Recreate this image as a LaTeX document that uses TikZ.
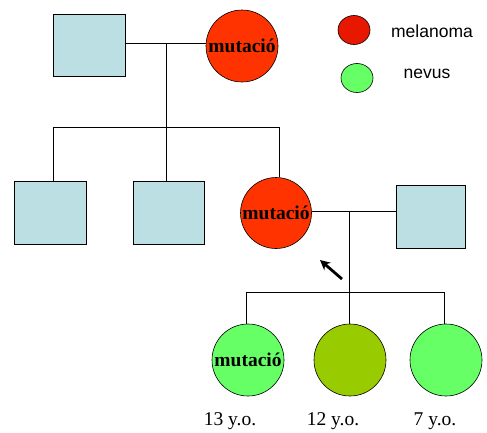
\documentclass[tikz,border=0pt]{standalone}
\usepackage{fontspec}
\setmainfont{Liberation Serif}
\newfontfamily\arialf{Liberation Sans}
\usetikzlibrary{shapes.geometric,arrows.meta}
\definecolor{sqblue}{HTML}{BBDFE3}
\definecolor{mred}{HTML}{FF3300}
\definecolor{lred}{HTML}{E81800}
\definecolor{ngreen}{HTML}{66FF66}
\definecolor{olive}{HTML}{99CC00}
\tikzset{
  male/.style={draw=black, line width=0.9pt, fill=sqblue, rectangle, inner sep=0pt},
  female/.style={draw=black, line width=0.6pt, circle, inner sep=0pt, minimum size=72pt},
  lgd/.style={draw=black, line width=0.6pt, ellipse, inner sep=0pt, minimum width=32pt, minimum height=29pt},
  lgdtxt/.style={font=\arialf\fontsize{17.5}{20}\selectfont, inner sep=0pt},
  agetxt/.style={font=\fontsize{19.5}{22}\selectfont, inner sep=0pt},
  link/.style={draw=black, line width=0.8pt},
  mut/.style={font=\bfseries\fontsize{19.5}{22}\selectfont}
}
\newcommand{\mutlbl}{\makebox[0pt]{\textbf{mutació}}}
\begin{document}
\begin{tikzpicture}[x=1pt, y=-1pt]
\useasboundingbox (0,0) rectangle (487,432);
% generation 1
\node[male, minimum width=72pt, minimum height=62pt] (g1m) at (89,45) {};
\node[female, fill=mred, mut] (g1f) at (242,46) {\mutlbl};
% legend
\node[lgd, fill=lred] (lr) at (354,30) {};
\node[lgdtxt] (lrt) at (432,31) {melanoma};
\node[lgd, fill=ngreen] (lg) at (357,78) {};
\node[lgdtxt] (lgt) at (427,74) {nevus};
% generation 2
\node[male, minimum width=72pt, minimum height=63pt] (c1) at (50,212.5) {};
\node[male, minimum width=71pt, minimum height=63pt] (c2) at (168.5,212.5) {};
\node[female, fill=mred, mut, minimum size=71pt] (c3) at (276,213) {\mutlbl};
\node[male, minimum width=69pt, minimum height=63pt] (sp) at (430.5,216.5) {};
% generation 3
\node[female, fill=ngreen, mut] (k1) at (248,360) {\mutlbl};
\node[female, fill=olive] (k2) at (350,360) {};
\node[female, fill=ngreen] (k3) at (446,360) {};
\node[agetxt] (a1) at (230,421) {13 y.o.};
\node[agetxt] (a2) at (333,421) {12 y.o.};
\node[agetxt] (a3) at (435,421) {7 y.o.};
% connectors gen1
\coordinate (m1) at (166,43);
\coordinate (b1) at (166,127);
\coordinate (d1) at (53,127);
\coordinate (d3) at (279,127);
\draw[link] (g1m.east |- m1) -- (g1f.west |- m1);
\draw[link] (m1) -- (b1);
\draw[link] (d1) -- (d3);
\draw[link] (d1) -- (d1 |- c1.north);
\draw[link] (b1) -- (b1 |- c2.north);
\draw[link] (d3) -- (d3 |- c3.north);
% connectors gen2
\coordinate (m2) at (349,211);
\coordinate (b2) at (349,292);
\coordinate (e1) at (246,292);
\coordinate (e3) at (444,292);
\draw[link] (c3.east |- m2) -- (sp.west |- m2);
\draw[link] (m2) -- (b2);
\draw[link] (e1) -- (e3);
\draw[link] (e1) -- (e1 |- k1.north);
\draw[link] (b2) -- (b2 |- k2.north);
\draw[link] (e3) -- (e3 |- k3.north);
% arrow
\coordinate (arT) at (342,279);
\coordinate (arH) at (320,260);
\draw[line width=2.8pt, -{Stealth[length=10pt,width=10pt]}] (arT) -- (arH);
\end{tikzpicture}
\end{document}
